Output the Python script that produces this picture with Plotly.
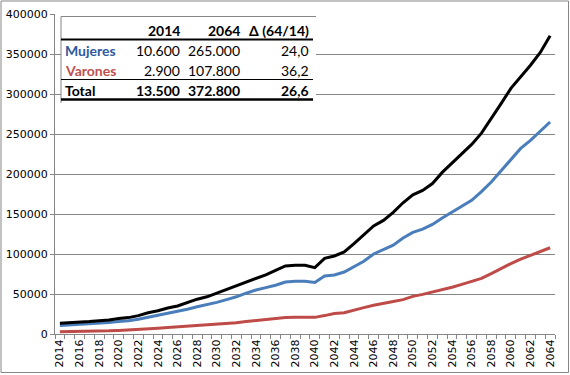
import plotly.graph_objects as go

years = list(range(2014, 2065))

total = [13500, 14000, 15000, 15500, 16500, 17500, 19500, 20500, 23000, 26500,
         29000, 32500, 35000, 39000, 43500, 46500, 51000, 56000, 60000, 65000,
         70000, 74000, 79500, 85000, 86000, 86000, 83000, 94500, 97500, 102500,
         113000, 124000, 135000, 142000, 152000, 164000, 174000, 179500, 188000, 202000,
         214000, 225000, 237000, 251000, 269000, 288000, 307000, 321000, 336000, 352000,
         372800]

mujeres = [10600, 11200, 12000, 12500, 13500, 14500, 15500, 16500, 18500, 21000,
           23500, 26000, 28000, 31000, 34000, 36500, 39500, 43000, 46500, 51000,
           55000, 58000, 61000, 65000, 66000, 66000, 64500, 72500, 73800, 77500,
           84000, 91000, 100000, 105000, 111000, 120000, 127000, 131000, 137000, 145000,
           152000, 159000, 167000, 178000, 190000, 204000, 218500, 232000, 242000, 253000,
           265000]

varones = [2900, 3000, 3100, 3300, 3600, 4000, 4500, 5000, 5800, 6500,
           7200, 8000, 8800, 9500, 10300, 11000, 12000, 13000, 14200, 15500,
           16800, 18000, 19500, 20500, 20800, 20800, 20800, 23000, 25500, 26500,
           30000, 33000, 36000, 38000, 40500, 43000, 47000, 49500, 52500, 55000,
           58500, 62000, 65500, 69500, 75500, 82000, 88000, 93500, 98500, 103500,
           107800]

table_header = ["", "2014", "2064", "Δ (64/14)"]
table_rows = [
    ["Mujeres", "10.600", "265.000", "24,0"],
    ["Varones", "2.900", "107.800", "36,2"],
    ["Total", "13.500", "372.800", "26,6"],
]
row_colors = ["#2F5A9E", "#C0504D", "#000000"]

W, H = 570, 375
L, R, T, B = 55, 15, 14, 41
PW, PH = W - L - R, H - T - B


def px(x):
    return (x - L) / PW


def py(y):
    return (H - B - y) / PH


fig = go.Figure()
fig.add_trace(go.Scatter(x=years, y=mujeres, mode="lines", name="Mujeres",
                         line=dict(color="#4A7EBB", width=3)))
fig.add_trace(go.Scatter(x=years, y=varones, mode="lines", name="Varones",
                         line=dict(color="#BE4B48", width=3)))
fig.add_trace(go.Scatter(x=years, y=total, mode="lines", name="Total",
                         line=dict(color="#000000", width=3)))

axis_col = "#868686"
fig.update_layout(
    width=W, height=H,
    margin=dict(l=L, r=R, t=T, b=B, autoexpand=False),
    paper_bgcolor="white", plot_bgcolor="white",
    showlegend=False,
    font=dict(family="DejaVu Sans", size=11, color="#000000"),
    xaxis=dict(
        range=[2013.5, 2064.5], automargin=False,
        tickvals=list(range(2014, 2065, 2)),
        ticktext=[str(v) for v in range(2014, 2065, 2)],
        tickangle=-90, ticks="", showgrid=False,
        showline=True, linecolor=axis_col, linewidth=1,
        minor=dict(tick0=2013.5, dtick=1, ticks="outside", ticklen=4,
                   tickcolor=axis_col, showgrid=False),
        tickfont=dict(family="DejaVu Sans", size=11),
        zeroline=False,
    ),
    yaxis=dict(
        range=[0, 400000], dtick=50000, tickformat="d", automargin=False,
        ticks="outside", ticklen=4, tickcolor=axis_col,
        showgrid=True, gridcolor=axis_col, gridwidth=1,
        showline=True, linecolor=axis_col, linewidth=1,
        zeroline=False,
        tickfont=dict(family="DejaVu Sans", size=11),
    ),
)

shapes = []
# outer chart border
shapes.append(dict(type="rect", xref="paper", yref="paper",
                   x0=px(1), x1=px(568.5), y0=py(372.5), y1=py(1),
                   line=dict(color=axis_col, width=1), fillcolor="rgba(0,0,0,0)",
                   layer="above"))
# table background
shapes.append(dict(type="rect", xref="paper", yref="paper",
                   x0=px(61), x1=px(316), y0=py(103), y1=py(16.5),
                   line=dict(width=0), fillcolor="white", layer="above"))
shapes.append(dict(type="line", xref="paper", yref="paper",
                   x0=px(61), x1=px(316), y0=py(16.5), y1=py(16.5),
                   line=dict(color=axis_col, width=1), layer="above"))
shapes.append(dict(type="line", xref="paper", yref="paper",
                   x0=px(61), x1=px(61), y0=py(16.5), y1=py(103),
                   line=dict(color=axis_col, width=1), layer="above"))
for yy, w in [(39.5, 2), (79.5, 1), (99.5, 2.5)]:
    shapes.append(dict(type="line", xref="paper", yref="paper",
                       x0=px(61), x1=px(313), y0=py(yy), y1=py(yy),
                       line=dict(color="#000000", width=w), layer="above"))
fig.update_layout(shapes=shapes)

col_x = [63, 182, 242, 311]
row_y = [30.5, 50.5, 70.5, 90]
tfont = "Lato"
ann = []
for j in range(1, 4):
    ann.append(dict(x=px(col_x[j]), y=py(row_y[0]), xref="paper", yref="paper",
                    text="<b>%s</b>" % table_header[j], showarrow=False,
                    xanchor="right", yanchor="middle",
                    font=dict(family=tfont, size=14, color="#000000")))
for i, row in enumerate(table_rows):
    bold_all = (i == 2)
    for j, cell in enumerate(row):
        if j == 0:
            txt = "<b>%s</b>" % cell
            col = row_colors[i]
            xa = "left"
        else:
            txt = "<b>%s</b>" % cell if bold_all else cell
            col = "#000000"
            xa = "right"
        ann.append(dict(x=px(col_x[j]), y=py(row_y[i + 1]), xref="paper", yref="paper",
                        text=txt, showarrow=False, xanchor=xa, yanchor="middle",
                        font=dict(family=tfont, size=14, color=col)))
fig.update_layout(annotations=ann)

fig.write_html("out.html", config={"displayModeBar": False},
               post_script="document.body.style.margin='0';document.body.style.padding='0';")
